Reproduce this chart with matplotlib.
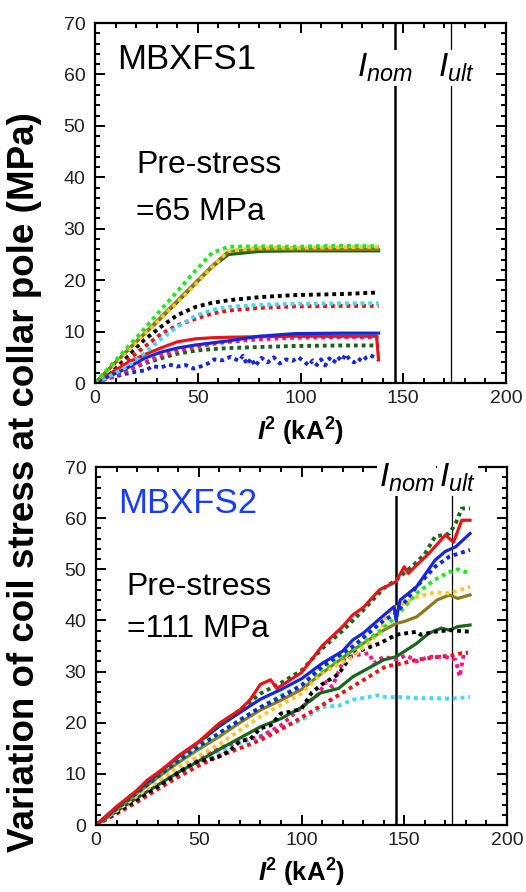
import matplotlib
matplotlib.use("Agg")
import matplotlib.pyplot as plt
from matplotlib.ticker import MultipleLocator

plt.rcParams["font.family"] = ["Liberation Sans", "DejaVu Sans"]
plt.rcParams["mathtext.fontset"] = "custom"
plt.rcParams["mathtext.rm"] = "Liberation Sans"
plt.rcParams["mathtext.it"] = "Liberation Sans:italic"
plt.rcParams["mathtext.bf"] = "Liberation Sans:bold"
plt.rcParams["mathtext.bfit"] = "Liberation Sans:bold:italic"

# ---- MBXFS1 (pre-stress 65 MPa) ----
t_x = [0, 8, 16, 24, 32, 40, 49, 57, 65, 80, 97, 120, 138]
t_green_dot = [0, 3.5, 7.0, 10.5, 14.2, 17.8, 21.9, 25.3, 26.5, 26.6, 26.5, 26.7, 26.6]
t_gold_dot = [0, 3.0, 6.2, 9.4, 12.5, 15.6, 19.2, 22.5, 25.7, 26.3, 26.3, 26.4, 26.5]
t_olive = [0, 3.2, 6.4, 9.6, 12.8, 16.0, 19.6, 22.8, 25.6, 26.0, 26.0, 26.0, 26.0]
t_dkgreen = [0, 3.2, 6.4, 9.5, 12.6, 15.7, 19.4, 22.6, 25.0, 25.6, 25.7, 25.7, 25.7]
t_black_dot = [0, 2.8, 5.4, 8.4, 10.9, 13.2, 14.8, 15.6, 16.1, 16.7, 17.1, 17.3, 17.6]
t_cyan_dot = [0, 1.5, 3.3, 5.8, 8.5, 10.9, 13.1, 14.2, 14.8, 15.2, 15.4, 15.5, 15.5]
t_red_dot = [0, 2.2, 4.5, 7.0, 9.5, 11.2, 12.5, 13.5, 14.1, 14.6, 14.9, 15.0, 15.0]
t_blue = [0, 1.5, 3.0, 4.8, 6.0, 6.8, 7.4, 7.8, 8.2, 9.1, 9.6, 9.7, 9.7]
t_magenta_dot = [0, 1.2, 2.5, 4.0, 5.3, 6.3, 7.0, 7.6, 8.0, 8.5, 8.8, 8.9, 8.9]
t_dkgreen_dot = [0, 1.2, 2.5, 3.8, 4.8, 5.7, 6.3, 6.6, 6.8, 7.0, 7.2, 7.3, 7.3]
t_red_x = [0, 8, 16, 24, 32, 40, 49, 57, 65, 80, 97, 120, 137, 138]
t_red = [0, 2.0, 4.0, 5.5, 6.8, 8.0, 8.6, 8.8, 8.9, 9.0, 9.1, 9.1, 9.1, 4.5]
t_bluedot_x = [0, 5, 10, 15, 20, 25, 28, 32, 36, 40, 44, 48, 52, 55, 58, 62, 66, 70,
               72, 74, 76, 78, 81, 84, 87, 90, 93, 96, 99, 102, 104, 106, 108, 110,
               112, 114, 116, 118, 120, 122, 124, 126, 128, 130, 132, 134, 136, 138]
t_bluedot = [0, 0.8, 1.3, 1.8, 2.2, 2.5, 3.3, 3.0, 3.6, 3.2, 3.5, 2.8, 3.3, 3.8, 4.6,
             4.4, 5.1, 4.3, 5.3, 3.6, 4.8, 3.3, 4.9, 4.0, 5.0, 3.8, 4.6, 4.3, 5.0, 4.1,
             3.4, 4.4, 3.5, 4.6, 3.4, 4.8, 3.9, 5.1, 4.3, 5.6, 4.5, 4.0, 4.8, 4.2, 5.0,
             5.4, 5.0, 4.5]

# ---- MBXFS2 (pre-stress 111 MPa) ----
b_red_x = [0, 10, 20, 25, 30, 35, 40, 50, 60, 70, 75, 80, 85, 88, 90, 100, 110, 120,
           125, 130, 138, 146, 150, 152, 156, 162, 170, 174, 178, 182]
b_red = [0, 3.6, 6.8, 8.8, 10.2, 11.8, 13.5, 16.3, 19.9, 22.5, 24.5, 27.5, 28.4, 26.7,
         27.2, 29.8, 35.0, 38.8, 41.1, 42.5, 46.0, 47.6, 50.5, 49.2, 50.8, 53.1, 56.7,
         55.3, 59.6, 59.6]
b_dkgdot_x = [0, 10, 20, 30, 40, 50, 60, 70, 80, 90, 100, 110, 120, 130, 140, 146, 155,
              160, 165, 170, 172, 175, 178, 182]
b_dkgdot = [0, 3.3, 6.5, 9.8, 13.0, 16.0, 19.5, 22.5, 25.7, 27.8, 30.2, 34.5, 38.0,
            42.0, 46.3, 47.9, 51.0, 53.0, 56.4, 56.8, 57.0, 59.0, 61.9, 61.9]
b_blue_x = [0, 10, 20, 30, 40, 50, 60, 70, 80, 90, 100, 110, 120, 125, 130, 140, 145,
            146, 148, 156, 165, 170, 175, 182]
b_blue = [0, 3.4, 6.7, 10.0, 13.3, 16.2, 19.3, 22.0, 24.6, 26.5, 28.6, 31.6, 34.0, 36.2,
          37.5, 41.0, 42.7, 40.1, 44.0, 46.6, 51.8, 53.5, 54.4, 57.0]
b_bluedot_x = [0, 10, 20, 30, 40, 50, 60, 70, 80, 90, 100, 110, 125, 140, 146, 156, 165,
               172, 182]
b_bluedot = [0, 3.2, 6.3, 9.5, 12.5, 15.3, 18.0, 20.5, 23.0, 25.0, 27.3, 31.0, 34.9,
             40.0, 41.4, 46.6, 50.5, 52.5, 53.8]
b_green_x = [0, 10, 20, 30, 40, 50, 60, 70, 80, 90, 100, 110, 125, 140, 146, 156, 165,
             172, 176, 182]
b_green = [0, 3.2, 6.3, 9.4, 12.3, 15.0, 17.8, 20.5, 23.0, 25.3, 27.3, 30.3, 34.2, 38.5,
           40.8, 45.3, 48.0, 49.5, 50.0, 49.2]
b_gold_x = [0, 10, 20, 30, 40, 50, 60, 70, 80, 90, 100, 110, 125, 138, 142, 146, 156,
            165, 172, 180, 182]
b_gold = [0, 2.8, 5.7, 8.5, 11.3, 13.5, 15.8, 18.5, 21.2, 23.5, 25.7, 29.7, 32.9, 37.5,
          41.4, 42.5, 44.6, 45.5, 45.3, 46.3, 46.6]
b_olive_x = [0, 10, 20, 30, 40, 50, 60, 70, 80, 90, 100, 110, 125, 140, 146, 150, 156,
             160, 166, 172, 176, 182]
b_olive = [0, 3.0, 6.2, 9.3, 12.2, 14.8, 17.3, 20.0, 22.5, 24.4, 26.5, 29.7, 34.2, 38.1,
           39.4, 39.8, 40.7, 42.0, 44.0, 45.0, 44.3, 45.0]
b_black_x = [0, 10, 20, 30, 40, 45, 50, 55, 60, 65, 70, 75, 80, 85, 90, 95, 100, 105,
             110, 118, 125, 138, 146, 156, 158, 165, 172, 182]
b_black = [0, 2.5, 5.0, 7.5, 10.2, 11.5, 12.5, 12.8, 13.4, 14.5, 16.4, 16.8, 18.9, 19.5,
           21.8, 22.2, 22.7, 25.9, 27.5, 29.5, 33.6, 35.5, 37.2, 37.8, 37.2, 37.8, 38.1,
           37.8]
b_dkgreen_x = [0, 10, 20, 30, 40, 50, 60, 70, 80, 90, 100, 109, 118, 125, 140, 146, 156,
               162, 168, 172, 176, 182]
b_dkgreen = [0, 2.7, 5.3, 7.8, 10.3, 12.5, 14.8, 17.0, 19.2, 20.8, 23.0, 25.8, 26.7,
             29.0, 32.3, 32.9, 35.5, 37.5, 38.5, 38.1, 38.8, 39.1]
b_magenta_x = [0, 10, 20, 30, 40, 50, 60, 70, 80, 90, 100, 108, 112, 115, 118, 121, 126,
               133, 135, 140, 146, 151, 156, 162, 170, 175, 177, 179]
b_magenta = [0, 2.6, 5.2, 7.8, 10.3, 12.8, 15.0, 16.5, 17.3, 19.5, 23.0, 25.5, 28.0,
             27.0, 30.0, 32.6, 33.2, 33.6, 31.6, 32.9, 32.3, 33.2, 32.0, 32.9, 32.9,
             32.3, 29.0, 33.6]
b_reddot_x = [0, 10, 20, 30, 40, 50, 60, 70, 80, 90, 100, 109, 118, 125, 141, 149, 156,
              165, 174, 178, 181]
b_reddot = [0, 2.2, 4.5, 7.0, 9.4, 11.6, 13.5, 15.0, 16.6, 18.7, 21.0, 23.2, 25.4, 27.1,
            31.0, 31.6, 32.3, 32.8, 33.2, 33.6, 33.7]
b_cyan_x = [0, 10, 20, 30, 40, 50, 60, 70, 80, 90, 100, 110, 118, 125, 138, 141, 150,
            156, 165, 172, 182]
b_cyan = [0, 2.4, 4.9, 7.4, 10.0, 12.3, 14.3, 16.0, 17.3, 19.0, 20.5, 23.1, 23.3, 24.5,
          25.4, 25.0, 25.0, 24.8, 24.8, 24.7, 25.0]

I_nom = 146
I_ult = 173

GREEN = "#22e822"
GOLD = "#ffc72c"
OLIVE = "#8c7a1c"
DKGREEN = "#17661c"
CYAN = "#45d8f5"
RED = "#e8141a"
BLUE = "#1428d8"
MAGENTA = "#ee1a8a"
DOT = dict(linestyle=(0, (1, 1)), lw=2.8, dash_capstyle="butt")
SOLID = dict(linestyle="-", lw=2.3)

fig = plt.figure(figsize=(5.26, 8.92), dpi=100)
ax1 = fig.add_axes([0.1806, 0.5706, 0.7814, 0.4036])
ax2 = fig.add_axes([0.1825, 0.0751, 0.7814, 0.4013])

top_series = [
    (t_x, t_dkgreen_dot, DKGREEN, DOT),
    (t_bluedot_x, t_bluedot, BLUE, DOT),
    (t_x, t_magenta_dot, MAGENTA, DOT),
    (t_red_x, t_red, RED, SOLID),
    (t_x, t_blue, BLUE, SOLID),
    (t_x, t_red_dot, RED, DOT),
    (t_x, t_cyan_dot, CYAN, DOT),
    (t_x, t_black_dot, "black", DOT),
    (t_x, t_dkgreen, DKGREEN, SOLID),
    (t_x, t_olive, OLIVE, SOLID),
    (t_x, t_gold_dot, GOLD, DOT),
    (t_x, t_green_dot, GREEN, DOT),
]
bottom_series = [
    (b_cyan_x, b_cyan, CYAN, DOT),
    (b_reddot_x, b_reddot, RED, DOT),
    (b_magenta_x, b_magenta, MAGENTA, DOT),
    (b_dkgreen_x, b_dkgreen, DKGREEN, SOLID),
    (b_black_x, b_black, "black", DOT),
    (b_olive_x, b_olive, OLIVE, SOLID),
    (b_gold_x, b_gold, GOLD, DOT),
    (b_green_x, b_green, GREEN, DOT),
    (b_bluedot_x, b_bluedot, BLUE, DOT),
    (b_blue_x, b_blue, BLUE, SOLID),
    (b_dkgdot_x, b_dkgdot, DKGREEN, DOT),
    (b_red_x, b_red, RED, SOLID),
]

for ax, series in ((ax1, top_series), (ax2, bottom_series)):
    for x, y, c, st in series:
        ax.plot(x, y, color=c, zorder=2, **st)
    ax.axvline(I_nom, color="black", lw=1.8, zorder=1)
    ax.axvline(I_ult, color="black", lw=0.9, zorder=1)
    ax.set_xlim(0, 200)
    ax.set_ylim(0, 70)
    ax.xaxis.set_major_locator(MultipleLocator(50))
    ax.xaxis.set_minor_locator(MultipleLocator(10))
    ax.yaxis.set_major_locator(MultipleLocator(10))
    ax.yaxis.set_minor_locator(MultipleLocator(2))
    ax.tick_params(which="both", direction="in", top=True, right=True, width=1.4,
                   labelsize=14, labelcolor="#222222")
    ax.tick_params(which="major", length=7)
    ax.tick_params(which="minor", length=3.5)
    ax.tick_params(axis="x", pad=5)
    ax.tick_params(axis="y", pad=7)
    for s in ax.spines.values():
        s.set_linewidth(1.6)
    ax.set_xlabel(r"$\mathbfit{I}^{\mathbf{2}}$ (kA$^{\mathbf{2}}$)", fontsize=18.5,
                  fontweight="bold", labelpad=6)

box = dict(facecolor="white", edgecolor="none", pad=1.5)
ax1.text(11, 61, "MBXFS1", fontsize=25, va="baseline")
ax1.text(20, 40.8, "Pre-stress", fontsize=23, va="baseline")
ax1.text(20, 31.7, "=65 MPa", fontsize=23, va="baseline")
ax1.text(127.5, 59.5, r"$I_{nom}$", fontsize=24, va="baseline", bbox=box, zorder=5)
ax1.text(167, 59.5, r"$I_{ult}$", fontsize=24, va="baseline", bbox=box, zorder=5)

ax2.text(11, 61, "MBXFS2", fontsize=25, va="baseline", color="#1a3cf5")
ax2.text(15, 45, "Pre-stress", fontsize=23, va="baseline")
ax2.text(15, 36.8, "=111 MPa", fontsize=23, va="baseline")
ax2.text(137.5, 66.2, r"$I_{nom}$", fontsize=24, va="baseline", bbox=box, zorder=5,
         clip_on=False)
ax2.text(167, 66.2, r"$I_{ult}$", fontsize=24, va="baseline", bbox=box, zorder=5,
         clip_on=False)

fig.text(0.047, 0.46, "Variation of coil stress at collar pole (MPa)", rotation=90,
         fontsize=26.5, fontweight="bold", ha="center", va="center")

fig.savefig("out.png", dpi=100)
